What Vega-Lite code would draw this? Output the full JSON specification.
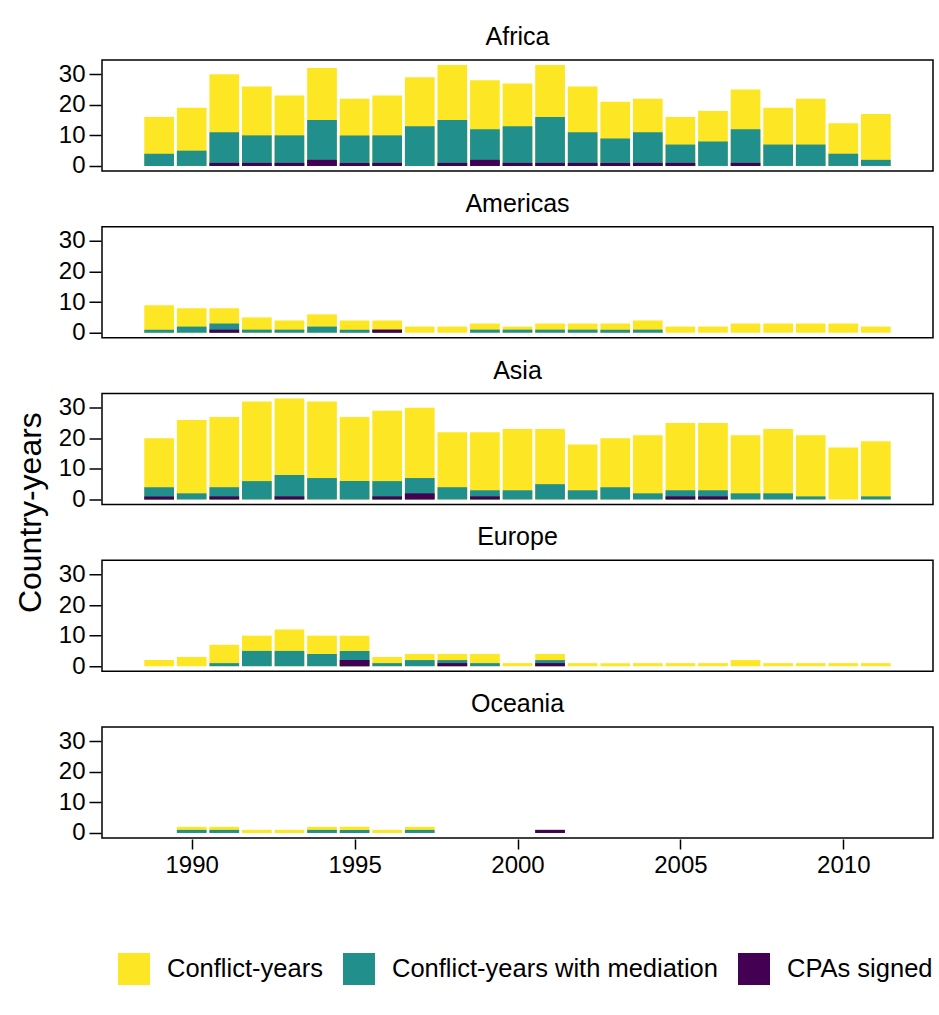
{
  "$schema": "https://vega.github.io/schema/vega-lite/v6.json",
  "padding": {"left": 15, "top": 24, "right": 5, "bottom": 5},
  "title": {"text": "Country-years", "orient": "left", "anchor": "middle", "fontSize": 32, "fontWeight": "normal", "color": "#000", "font": "Liberation Sans", "offset": 10},
  "data": {"values": [
    {"region":"Africa","year":1989,"Conflict-years":16,"Conflict-years with mediation":4,"CPAs signed":0},
    {"region":"Africa","year":1990,"Conflict-years":19,"Conflict-years with mediation":5,"CPAs signed":0},
    {"region":"Africa","year":1991,"Conflict-years":30,"Conflict-years with mediation":11,"CPAs signed":1},
    {"region":"Africa","year":1992,"Conflict-years":26,"Conflict-years with mediation":10,"CPAs signed":1},
    {"region":"Africa","year":1993,"Conflict-years":23,"Conflict-years with mediation":10,"CPAs signed":1},
    {"region":"Africa","year":1994,"Conflict-years":32,"Conflict-years with mediation":15,"CPAs signed":2},
    {"region":"Africa","year":1995,"Conflict-years":22,"Conflict-years with mediation":10,"CPAs signed":1},
    {"region":"Africa","year":1996,"Conflict-years":23,"Conflict-years with mediation":10,"CPAs signed":1},
    {"region":"Africa","year":1997,"Conflict-years":29,"Conflict-years with mediation":13,"CPAs signed":0},
    {"region":"Africa","year":1998,"Conflict-years":33,"Conflict-years with mediation":15,"CPAs signed":1},
    {"region":"Africa","year":1999,"Conflict-years":28,"Conflict-years with mediation":12,"CPAs signed":2},
    {"region":"Africa","year":2000,"Conflict-years":27,"Conflict-years with mediation":13,"CPAs signed":1},
    {"region":"Africa","year":2001,"Conflict-years":33,"Conflict-years with mediation":16,"CPAs signed":1},
    {"region":"Africa","year":2002,"Conflict-years":26,"Conflict-years with mediation":11,"CPAs signed":1},
    {"region":"Africa","year":2003,"Conflict-years":21,"Conflict-years with mediation":9,"CPAs signed":1},
    {"region":"Africa","year":2004,"Conflict-years":22,"Conflict-years with mediation":11,"CPAs signed":1},
    {"region":"Africa","year":2005,"Conflict-years":16,"Conflict-years with mediation":7,"CPAs signed":1},
    {"region":"Africa","year":2006,"Conflict-years":18,"Conflict-years with mediation":8,"CPAs signed":0},
    {"region":"Africa","year":2007,"Conflict-years":25,"Conflict-years with mediation":12,"CPAs signed":1},
    {"region":"Africa","year":2008,"Conflict-years":19,"Conflict-years with mediation":7,"CPAs signed":0},
    {"region":"Africa","year":2009,"Conflict-years":22,"Conflict-years with mediation":7,"CPAs signed":0},
    {"region":"Africa","year":2010,"Conflict-years":14,"Conflict-years with mediation":4,"CPAs signed":0},
    {"region":"Africa","year":2011,"Conflict-years":17,"Conflict-years with mediation":2,"CPAs signed":0},
    {"region":"Americas","year":1989,"Conflict-years":9,"Conflict-years with mediation":1,"CPAs signed":0},
    {"region":"Americas","year":1990,"Conflict-years":8,"Conflict-years with mediation":2,"CPAs signed":0},
    {"region":"Americas","year":1991,"Conflict-years":8,"Conflict-years with mediation":3,"CPAs signed":1},
    {"region":"Americas","year":1992,"Conflict-years":5,"Conflict-years with mediation":1,"CPAs signed":0},
    {"region":"Americas","year":1993,"Conflict-years":4,"Conflict-years with mediation":1,"CPAs signed":0},
    {"region":"Americas","year":1994,"Conflict-years":6,"Conflict-years with mediation":2,"CPAs signed":0},
    {"region":"Americas","year":1995,"Conflict-years":4,"Conflict-years with mediation":1,"CPAs signed":0},
    {"region":"Americas","year":1996,"Conflict-years":4,"Conflict-years with mediation":1,"CPAs signed":1},
    {"region":"Americas","year":1997,"Conflict-years":2,"Conflict-years with mediation":0,"CPAs signed":0},
    {"region":"Americas","year":1998,"Conflict-years":2,"Conflict-years with mediation":0,"CPAs signed":0},
    {"region":"Americas","year":1999,"Conflict-years":3,"Conflict-years with mediation":1,"CPAs signed":0},
    {"region":"Americas","year":2000,"Conflict-years":2,"Conflict-years with mediation":1,"CPAs signed":0},
    {"region":"Americas","year":2001,"Conflict-years":3,"Conflict-years with mediation":1,"CPAs signed":0},
    {"region":"Americas","year":2002,"Conflict-years":3,"Conflict-years with mediation":1,"CPAs signed":0},
    {"region":"Americas","year":2003,"Conflict-years":3,"Conflict-years with mediation":1,"CPAs signed":0},
    {"region":"Americas","year":2004,"Conflict-years":4,"Conflict-years with mediation":1,"CPAs signed":0},
    {"region":"Americas","year":2005,"Conflict-years":2,"Conflict-years with mediation":0,"CPAs signed":0},
    {"region":"Americas","year":2006,"Conflict-years":2,"Conflict-years with mediation":0,"CPAs signed":0},
    {"region":"Americas","year":2007,"Conflict-years":3,"Conflict-years with mediation":0,"CPAs signed":0},
    {"region":"Americas","year":2008,"Conflict-years":3,"Conflict-years with mediation":0,"CPAs signed":0},
    {"region":"Americas","year":2009,"Conflict-years":3,"Conflict-years with mediation":0,"CPAs signed":0},
    {"region":"Americas","year":2010,"Conflict-years":3,"Conflict-years with mediation":0,"CPAs signed":0},
    {"region":"Americas","year":2011,"Conflict-years":2,"Conflict-years with mediation":0,"CPAs signed":0},
    {"region":"Asia","year":1989,"Conflict-years":20,"Conflict-years with mediation":4,"CPAs signed":1},
    {"region":"Asia","year":1990,"Conflict-years":26,"Conflict-years with mediation":2,"CPAs signed":0},
    {"region":"Asia","year":1991,"Conflict-years":27,"Conflict-years with mediation":4,"CPAs signed":1},
    {"region":"Asia","year":1992,"Conflict-years":32,"Conflict-years with mediation":6,"CPAs signed":0},
    {"region":"Asia","year":1993,"Conflict-years":33,"Conflict-years with mediation":8,"CPAs signed":1},
    {"region":"Asia","year":1994,"Conflict-years":32,"Conflict-years with mediation":7,"CPAs signed":0},
    {"region":"Asia","year":1995,"Conflict-years":27,"Conflict-years with mediation":6,"CPAs signed":0},
    {"region":"Asia","year":1996,"Conflict-years":29,"Conflict-years with mediation":6,"CPAs signed":1},
    {"region":"Asia","year":1997,"Conflict-years":30,"Conflict-years with mediation":7,"CPAs signed":2},
    {"region":"Asia","year":1998,"Conflict-years":22,"Conflict-years with mediation":4,"CPAs signed":0},
    {"region":"Asia","year":1999,"Conflict-years":22,"Conflict-years with mediation":3,"CPAs signed":1},
    {"region":"Asia","year":2000,"Conflict-years":23,"Conflict-years with mediation":3,"CPAs signed":0},
    {"region":"Asia","year":2001,"Conflict-years":23,"Conflict-years with mediation":5,"CPAs signed":0},
    {"region":"Asia","year":2002,"Conflict-years":18,"Conflict-years with mediation":3,"CPAs signed":0},
    {"region":"Asia","year":2003,"Conflict-years":20,"Conflict-years with mediation":4,"CPAs signed":0},
    {"region":"Asia","year":2004,"Conflict-years":21,"Conflict-years with mediation":2,"CPAs signed":0},
    {"region":"Asia","year":2005,"Conflict-years":25,"Conflict-years with mediation":3,"CPAs signed":1},
    {"region":"Asia","year":2006,"Conflict-years":25,"Conflict-years with mediation":3,"CPAs signed":1},
    {"region":"Asia","year":2007,"Conflict-years":21,"Conflict-years with mediation":2,"CPAs signed":0},
    {"region":"Asia","year":2008,"Conflict-years":23,"Conflict-years with mediation":2,"CPAs signed":0},
    {"region":"Asia","year":2009,"Conflict-years":21,"Conflict-years with mediation":1,"CPAs signed":0},
    {"region":"Asia","year":2010,"Conflict-years":17,"Conflict-years with mediation":0,"CPAs signed":0},
    {"region":"Asia","year":2011,"Conflict-years":19,"Conflict-years with mediation":1,"CPAs signed":0},
    {"region":"Europe","year":1989,"Conflict-years":2,"Conflict-years with mediation":0,"CPAs signed":0},
    {"region":"Europe","year":1990,"Conflict-years":3,"Conflict-years with mediation":0,"CPAs signed":0},
    {"region":"Europe","year":1991,"Conflict-years":7,"Conflict-years with mediation":1,"CPAs signed":0},
    {"region":"Europe","year":1992,"Conflict-years":10,"Conflict-years with mediation":5,"CPAs signed":0},
    {"region":"Europe","year":1993,"Conflict-years":12,"Conflict-years with mediation":5,"CPAs signed":0},
    {"region":"Europe","year":1994,"Conflict-years":10,"Conflict-years with mediation":4,"CPAs signed":0},
    {"region":"Europe","year":1995,"Conflict-years":10,"Conflict-years with mediation":5,"CPAs signed":2},
    {"region":"Europe","year":1996,"Conflict-years":3,"Conflict-years with mediation":1,"CPAs signed":0},
    {"region":"Europe","year":1997,"Conflict-years":4,"Conflict-years with mediation":2,"CPAs signed":0},
    {"region":"Europe","year":1998,"Conflict-years":4,"Conflict-years with mediation":2,"CPAs signed":1},
    {"region":"Europe","year":1999,"Conflict-years":4,"Conflict-years with mediation":1,"CPAs signed":0},
    {"region":"Europe","year":2000,"Conflict-years":1,"Conflict-years with mediation":0,"CPAs signed":0},
    {"region":"Europe","year":2001,"Conflict-years":4,"Conflict-years with mediation":2,"CPAs signed":1},
    {"region":"Europe","year":2002,"Conflict-years":1,"Conflict-years with mediation":0,"CPAs signed":0},
    {"region":"Europe","year":2003,"Conflict-years":1,"Conflict-years with mediation":0,"CPAs signed":0},
    {"region":"Europe","year":2004,"Conflict-years":1,"Conflict-years with mediation":0,"CPAs signed":0},
    {"region":"Europe","year":2005,"Conflict-years":1,"Conflict-years with mediation":0,"CPAs signed":0},
    {"region":"Europe","year":2006,"Conflict-years":1,"Conflict-years with mediation":0,"CPAs signed":0},
    {"region":"Europe","year":2007,"Conflict-years":2,"Conflict-years with mediation":0,"CPAs signed":0},
    {"region":"Europe","year":2008,"Conflict-years":1,"Conflict-years with mediation":0,"CPAs signed":0},
    {"region":"Europe","year":2009,"Conflict-years":1,"Conflict-years with mediation":0,"CPAs signed":0},
    {"region":"Europe","year":2010,"Conflict-years":1,"Conflict-years with mediation":0,"CPAs signed":0},
    {"region":"Europe","year":2011,"Conflict-years":1,"Conflict-years with mediation":0,"CPAs signed":0},
    {"region":"Oceania","year":1990,"Conflict-years":2,"Conflict-years with mediation":1,"CPAs signed":0},
    {"region":"Oceania","year":1991,"Conflict-years":2,"Conflict-years with mediation":1,"CPAs signed":0},
    {"region":"Oceania","year":1992,"Conflict-years":1,"Conflict-years with mediation":0,"CPAs signed":0},
    {"region":"Oceania","year":1993,"Conflict-years":1,"Conflict-years with mediation":0,"CPAs signed":0},
    {"region":"Oceania","year":1994,"Conflict-years":2,"Conflict-years with mediation":1,"CPAs signed":0},
    {"region":"Oceania","year":1995,"Conflict-years":2,"Conflict-years with mediation":1,"CPAs signed":0},
    {"region":"Oceania","year":1996,"Conflict-years":1,"Conflict-years with mediation":0,"CPAs signed":0},
    {"region":"Oceania","year":1997,"Conflict-years":2,"Conflict-years with mediation":1,"CPAs signed":0},
    {"region":"Oceania","year":2001,"Conflict-years":1,"Conflict-years with mediation":1,"CPAs signed":1}
  ]},
  "transform": [
    {"fold": ["Conflict-years", "Conflict-years with mediation", "CPAs signed"], "as": ["series", "value"]},
    {"filter": "datum.value > 0"}
  ],
  "facet": {
    "field": "region", "type": "nominal", "title": null,
    "header": {"labelFontSize": 25, "labelFont": "Liberation Sans", "labelColor": "#000", "labelPadding": 10}
  },
  "columns": 1,
  "spacing": 18.75,
  "spec": {
    "width": 831,
    "height": 111,
    "mark": {"type": "bar", "width": 29.7},
    "encoding": {
      "x": {
        "field": "year", "type": "quantitative",
        "scale": {"domain": [1987.4, 2012.6], "nice": false, "zero": false},
        "axis": {"values": [1990, 1995, 2000, 2005, 2010], "format": "d", "title": null, "labelFontSize": 24, "tickSize": 10, "labelPadding": 4, "domain": false, "grid": false, "labelFlush": false}
      },
      "y": {
        "field": "value", "type": "quantitative", "stack": null,
        "scale": {"domain": [-1.65, 34.65], "nice": false, "zero": false},
        "axis": {"values": [0, 10, 20, 30], "title": null, "labelFontSize": 24, "tickSize": 12, "labelPadding": 4, "domain": false, "grid": false, "labelFlush": false}
      },
      "y2": {"datum": 0},
      "color": {
        "field": "series", "type": "nominal",
        "scale": {"domain": ["Conflict-years", "Conflict-years with mediation", "CPAs signed"], "range": ["#FDE725", "#21908C", "#440154"]},
        "legend": {"title": null, "orient": "bottom", "direction": "horizontal", "symbolType": "square", "symbolSize": 1024, "symbolStrokeWidth": 0, "labelFontSize": 25.5, "labelFont": "Liberation Sans", "labelColor": "#000", "labelOffset": 17, "labelLimit": 0, "columnPadding": 20, "offset": 60, "padding": 16, "symbolOpacity": 1}
      }
    }
  },
  "config": {
    "font": "Liberation Sans",
    "view": {"stroke": "#000", "strokeWidth": 1.5},
    "axis": {"labelColor": "#000", "tickColor": "#000", "tickWidth": 1.5}
  }
}
